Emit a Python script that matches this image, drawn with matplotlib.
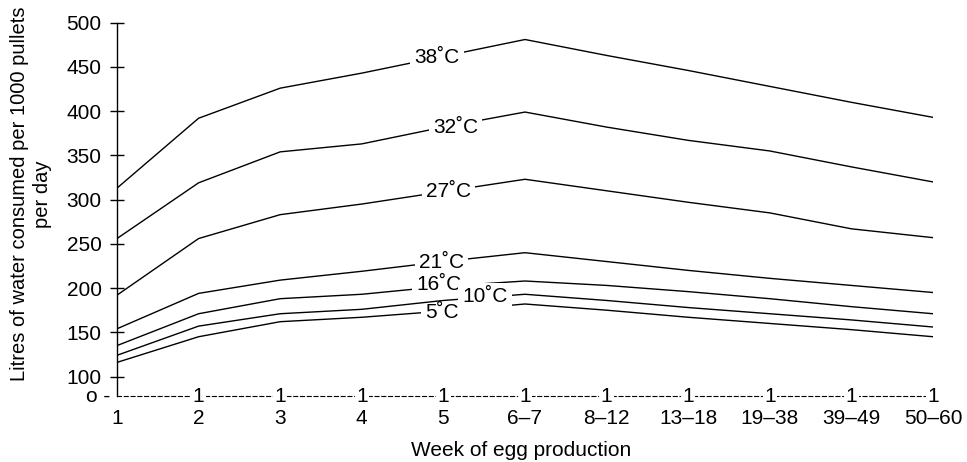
import numpy as np
import matplotlib
matplotlib.use('Agg')
import matplotlib.pyplot as plt

plt.rcParams['font.family'] = ['Liberation Sans', 'DejaVu Sans']

weeks = ['1', '2', '3', '4', '5', '6–7', '8–12', '13–18', '19–38', '39–49', '50–60']

# litres per 1000 pullets per day, one list per temperature
t38 = [313, 392, 426, 443, 462, 481, 463, 446, 428, 410, 393]
t32 = [256, 319, 354, 363, 382, 399, 382, 367, 355, 337, 320]
t27 = [192, 256, 283, 295, 309, 323, 310, 297, 285, 267, 257]
t21 = [154, 194, 209, 219, 230, 240, 230, 220, 211, 203, 195]
t16 = [135, 171, 188, 193, 202, 208, 203, 196, 188, 179, 171]
t10 = [124, 157, 171, 176, 186, 193, 186, 178, 171, 164, 156]
t5 = [116, 145, 162, 167, 174, 182, 175, 167, 160, 153, 145]

series = [('38˚C', t38), ('32˚C', t32), ('27˚C', t27), ('21˚C', t21),
          ('16˚C', t16), ('10˚C', t10), ('5˚C', t5)]

# where each curve label sits (x index, value)
label_at = {'38˚C': (3.92, 461), '32˚C': (4.15, 382), '27˚C': (4.06, 309),
            '21˚C': (3.98, 229), '16˚C': (3.94, 204), '10˚C': (4.51, 190),
            '5˚C': (3.98, 172)}

yticks = [100, 150, 200, 250, 300, 350, 400, 450, 500]
ybottom = 78
fs = 15

fig = plt.figure(figsize=(9.67, 4.62), dpi=100)
ax = fig.add_axes([117/967, 66/462, 816/967, 373.3/462])

x = np.arange(len(weeks))
for name, vals in series:
    z = 3.5 if name == '10˚C' else 2
    ax.plot(x, vals, color='black', lw=1.0, zorder=z)
    lx, ly = label_at[name]
    ax.text(lx, ly, name, fontsize=fs, ha='center', va='center',
            zorder=4 if name == '10˚C' else 3,
            bbox=dict(fc='white', ec='none', pad=3))

ax.set_xlim(0, len(weeks) - 1)
ax.set_ylim(ybottom, 500)

for s in ['top', 'right']:
    ax.spines[s].set_visible(False)
ax.spines['left'].set_linewidth(1.0)
ax.spines['bottom'].set_linewidth(0.8)
ax.spines['bottom'].set_linestyle((0, (3.6, 2.5)))

ax.set_yticks(yticks)
ax.set_yticklabels([str(v) for v in yticks])
ax.tick_params(axis='y', direction='inout', length=10, width=1.0, pad=6, labelsize=fs)

ax.set_xticks(x)
ax.set_xticklabels(weeks)
ax.tick_params(axis='x', length=0, pad=9, labelsize=fs)
ax.set_xticks([0], minor=True)
ax.tick_params(axis='x', which='minor', direction='inout', length=10, width=1.0)

# tick marks along the dashed axis drawn as "1"
for xi in x[1:]:
    ax.text(xi, ybottom, '1', fontsize=fs, ha='center', va='center', zorder=5,
            bbox=dict(fc='white', ec='none', pad=1.0))

ax.annotate('o -', xy=(0, ybottom), xycoords=('axes fraction', 'data'),
            xytext=(-7, 0), textcoords='offset pixels', ha='right', va='center',
            fontsize=fs, annotation_clip=False)

fig.text(31/967, 268/462, 'Litres of water consumed per 1000 pullets\nper day',
         rotation=90, ha='center', va='center', fontsize=14.5, linespacing=1.25)
fig.text(521/967, 11/462, 'Week of egg production', ha='center', va='center', fontsize=fs)

fig.savefig('out.png', dpi=100)
